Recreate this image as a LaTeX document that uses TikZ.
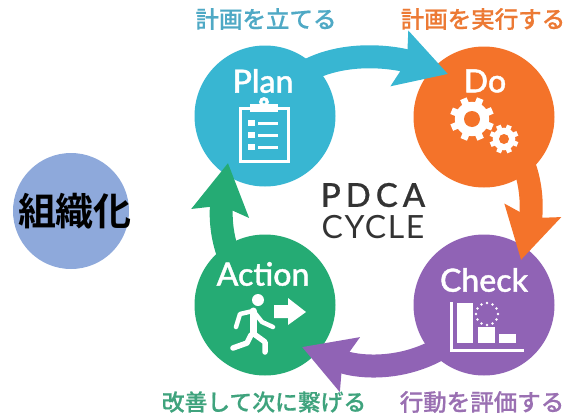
\documentclass[tikz,border=0pt]{standalone}
\usepackage{fontspec}
\setmainfont[FakeBold=1.2]{Lato Medium}
\newfontfamily\cjk[FakeBold=0.5]{Noto Sans CJK JP Medium}
\newfontfamily\cjkbold{Noto Sans CJK JP Bold}
\newfontfamily\cyclefont[LetterSpace=15,FakeBold=0.6]{Lato Medium}
\newfontfamily\cyclethin[LetterSpace=5]{Lato}
\usetikzlibrary{arrows.meta}
\definecolor{planblue}{HTML}{38B6D2}
\definecolor{doorange}{HTML}{F4732A}
\definecolor{checkpurple}{HTML}{9063B5}
\definecolor{actiongreen}{HTML}{25AB74}
\definecolor{orgblue}{HTML}{8EA9DB}
\definecolor{plantext}{HTML}{4FA9C5}
\definecolor{dotext}{HTML}{EC7A35}
\definecolor{checktext}{HTML}{9A70B2}
\definecolor{actiontext}{HTML}{3FA37D}
\tikzset{
  phase/.style={circle,fill=#1,minimum size=141pt,inner sep=0pt,outer sep=0pt},
  phasename/.style={text=white,inner sep=0pt,font=\fontsize{32}{32}\selectfont},
  steptext/.style={text=#1,inner sep=0pt,font=\cjk\fontsize{23.5}{23.5}\selectfont},
  cyclearrow/.style={line width=23pt,-{Stealth[length=50pt,width=56pt,inset=7pt]},#1},
  iconline/.style={draw=white,line width=#1,line cap=round,line join=round}
}
\newcommand{\geartooth}[4]{
  \foreach \a in {0,45,...,135}
    \draw[white,line width=#4] (#1)+(\a+22:#2) -- +(\a+202:#2);
  \fill[white] (#1) circle (#2*0.78);
  \fill[doorange] (#1) circle (#3);
}
\begin{document}
\begin{tikzpicture}[x=1pt,y=-1pt]
  \useasboundingbox (0,0) rectangle (574,418);
  \node[circle,fill=orgblue,minimum size=116pt,inner sep=0pt] (org) at (71,211) {};
  \node[inner sep=0pt,font=\cjkbold\fontsize{38}{38}\selectfont] (orgtext) at (75,211) {組織化};

  \node[phase=planblue] (plan) at (265,116) {};
  \node[phase=doorange] (do) at (484,117) {};
  \node[phase=checkpurple] (check) at (484,305) {};
  \node[phase=actiongreen] (action) at (265,305) {};

  \coordinate (dotip) at (448,74);
  \coordinate (checktip) at (521,260);
  \coordinate (actiontip) at (302,347);
  \coordinate (plantip) at (228,163);
  \draw[cyclearrow=planblue] (plan.center) .. controls (300,40) and (395,57) .. (dotip);
  \draw[cyclearrow=doorange] (do.center) .. controls (540,150) and (531,218) .. (checktip);
  \draw[cyclearrow=checkpurple] (check.center) .. controls (445,370) and (370,372) .. (actiontip);
  \draw[cyclearrow=actiongreen] (action.center) .. controls (215,265) and (221,208) .. (plantip);

  \node[phasename] (planname) at (263,81) {Plan};
  \node[phasename] (doname) at (485,81) {Do};
  \node[phasename] (checkname) at (484,280) {Check};
  \node[phasename] (actionname) at (263,274) {Action};

  \node[steptext=plantext] (plansay) at (266,19) {計画を立てる};
  \node[steptext=dotext] (dosay) at (483,19) {計画を実行する};
  \node[steptext=checktext] (checksay) at (482,402) {行動を評価する};
  \node[steptext=actiontext,font=\cjk\fontsize{22.8}{22.8}\selectfont] (actionsay) at (264,402) {改善して次に繋げる};

  \node[inner sep=0pt,text=black!80,font=\cyclefont\fontsize{33}{33}\selectfont] (pdca) at (373,195) {PDCA};
  \node[inner sep=0pt,text=black!80,font=\cyclethin\fontsize{32}{32}\selectfont] (cycle) at (373,227) {CYCLE};

  \draw[white,line width=3pt] (250,108) -- (240,108) -- (240,161) -- (288,161) -- (288,108) -- (278,108);
  \fill[white] (250,112) rectangle (278,104);
  \fill[white] (264,102) circle (5);
  \fill[planblue] (264,102) circle (1.6);
  \foreach \y in {123,135,147} {
    \fill[white] (248,\y-3) rectangle (255,\y+3);
    \draw[white,line width=3pt] (258,\y) -- (278,\y);
  }

  \geartooth{472,119}{22}{8}{7pt}
  \geartooth{504,139}{14.5}{5}{5pt}

  \fill[white] (258,300) circle (6);
  \draw[iconline=7pt] (253,311) -- (253,333);
  \draw[iconline=4.5pt] (253,311) -- (240,314) -- (236,327);
  \draw[iconline=4.5pt] (254,312) -- (262,322) -- (273,327);
  \draw[iconline=5.5pt] (254,334) -- (265,342) -- (265,352);
  \draw[iconline=5.5pt] (251,335) -- (247,343) -- (233,348);
  \fill[white] (274,305) -- (288,305) -- (288,298) -- (306,312) -- (288,325) -- (288,318) -- (274,318) -- cycle;

  \draw[white,line width=3pt] (451.5,302) -- (451.5,350) -- (524,350);
  \fill[white] (457,303) rectangle (473,343);
  \fill[white] (478,327) rectangle (495,343);
  \fill[white] (499,334) rectangle (516,343);
  \foreach \a in {0,30,...,330}
    \fill[white] (487,314)+(\a:11) circle (1.3);
\end{tikzpicture}
\end{document}
